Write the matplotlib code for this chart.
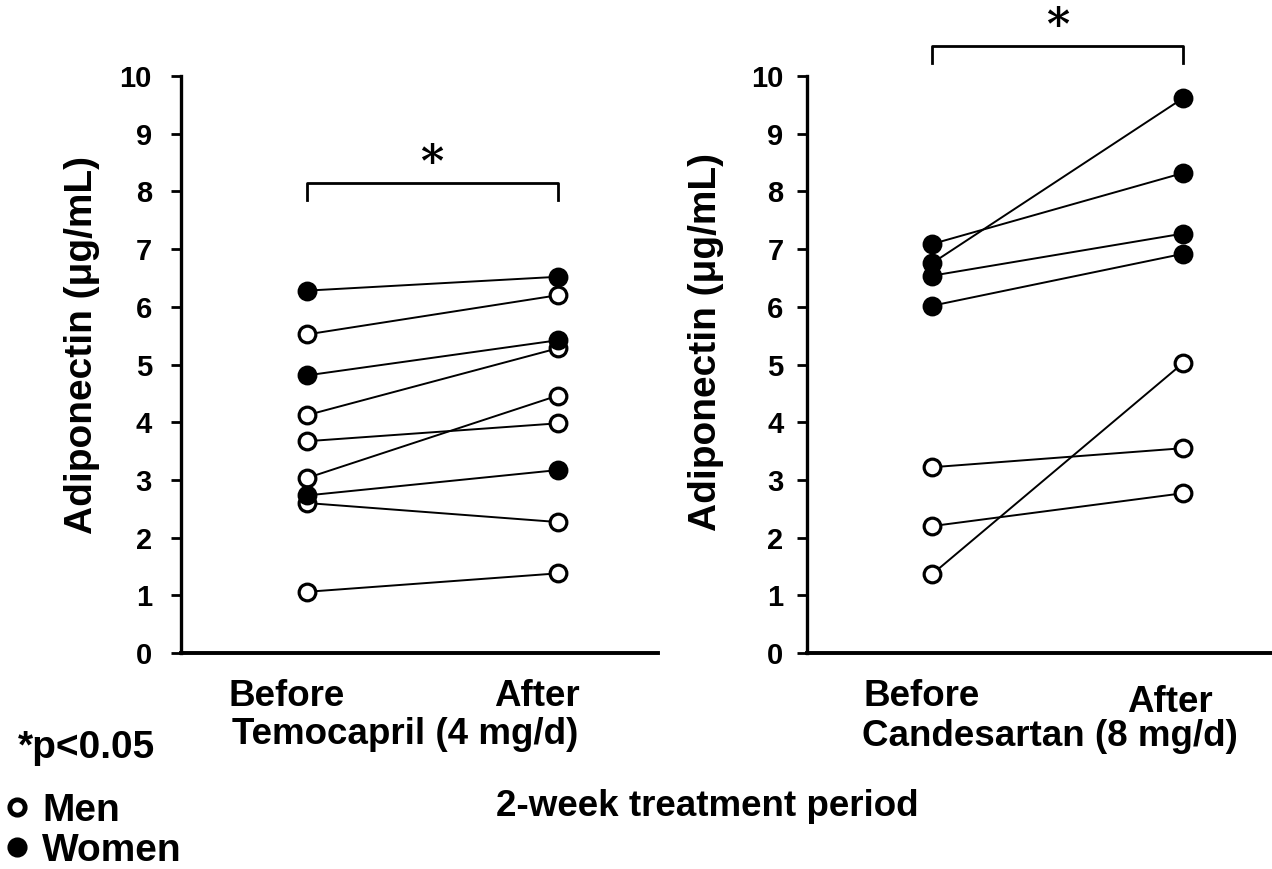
import matplotlib
matplotlib.use("Agg")
import matplotlib.pyplot as plt
from matplotlib.lines import Line2D

plt.rcParams['font.family'] = ['Liberation Sans', 'DejaVu Sans']
plt.rcParams['font.weight'] = 'bold'

# adiponectin (ug/mL) before/after two weeks of treatment, one pair per subject
temo_before = [6.28, 5.52, 4.81, 4.12, 3.67, 3.03, 2.73, 2.60, 1.06]
temo_after = [6.52, 6.20, 5.42, 5.28, 3.98, 4.46, 3.17, 2.27, 1.38]
temo_sex = ['F', 'M', 'F', 'M', 'M', 'M', 'F', 'M', 'M']

cand_before = [7.09, 6.76, 6.54, 6.02, 3.22, 2.20, 1.37]
cand_after = [8.32, 9.62, 7.27, 6.92, 3.55, 2.77, 5.03]
cand_sex = ['F', 'F', 'F', 'F', 'M', 'M', 'M']

yticks = list(range(0, 11))
W, H = 1272, 869

fig = plt.figure(figsize=(W / 100, H / 100), dpi=100)
ax1 = fig.add_axes([181 / W, 1 - 653 / H, (658 - 181) / W, (653 - 76) / H])
ax2 = fig.add_axes([807 / W, 1 - 653 / H, (W - 807) / W, (653 - 76) / H])


def draw_panel(ax, before, after, sex, xmax, pad, sig_y):
    # lines first, then open (men) then filled (women) markers on top
    for b, a in zip(before, after):
        ax.plot([0, 1], [b, a], color='black', lw=1.4, zorder=2)
    for want in ('M', 'F'):
        for b, a, s in zip(before, after, sex):
            if s != want:
                continue
            face = 'black' if s == 'F' else 'white'
            ax.plot([0, 1], [b, a], ls='none', marker='o', ms=12,
                    mfc=face, mec='black', mew=2.3, zorder=3)
    ax.set_xlim(-0.5, xmax)
    ax.set_ylim(0, 10)
    ax.set_yticks(yticks)
    ax.set_xticks([])
    for side in ('top', 'right'):
        ax.spines[side].set_visible(False)
    ax.spines['left'].set_linewidth(2.4)
    ax.spines['bottom'].set_linewidth(2.8)
    ax.tick_params(axis='y', length=7, width=2, pad=pad, labelsize=21)
    for lab in ax.get_yticklabels():
        lab.set_fontweight('heavy')
    # significance bracket
    ax.plot([0, 0, 1, 1], [sig_y - 0.3, sig_y, sig_y, sig_y - 0.3],
            color='black', lw=2, clip_on=False)
    ax.text(0.5, sig_y - 0.06, '*', ha='center', va='bottom', fontsize=32,
            fontweight='bold', family='DejaVu Serif', clip_on=False)


draw_panel(ax1, temo_before, temo_after, temo_sex, 1.40, 14, 8.15)
draw_panel(ax2, cand_before, cand_after, cand_sex, 1.353, 10, 10.52)


def ftext(x, y, s, **kw):
    fig.text(x / W, 1 - y / H, s, ha='center', va='center', **kw)


ftext(82, 345, 'Adiponectin (\u03bcg/mL)', rotation=90, fontsize=28)
ftext(706, 342, 'Adiponectin (\u03bcg/mL)', rotation=90, fontsize=28)

ftext(287, 697, 'Before', fontsize=26.5)
ftext(537, 697, 'After', fontsize=26.5)
ftext(405, 735, 'Temocapril (4 mg/d)', fontsize=26.5)

ftext(922, 697, 'Before', fontsize=26.5)
ftext(1170, 702, 'After', fontsize=26.5)
ftext(1050, 737, 'Candesartan (8 mg/d)', fontsize=26.5)

ftext(87, 748, '*p<0.05', fontsize=28)
ftext(707, 806, '2-week treatment period', fontsize=26.5)

handles = [
    Line2D([], [], ls='none', marker='o', ms=11, mfc='white', mec='black', mew=3.5),
    Line2D([], [], ls='none', marker='o', ms=11, mfc='black', mec='black', mew=3.5),
]
fig.legend(handles, ['Men', 'Women'], loc='upper left',
           bbox_to_anchor=(3 / W, 1 - 793 / H), frameon=False, fontsize=28,
           handlelength=0.7, handletextpad=0.3, labelspacing=0.1,
           borderpad=0, borderaxespad=0.0)

fig.savefig('out.png', dpi=100)
